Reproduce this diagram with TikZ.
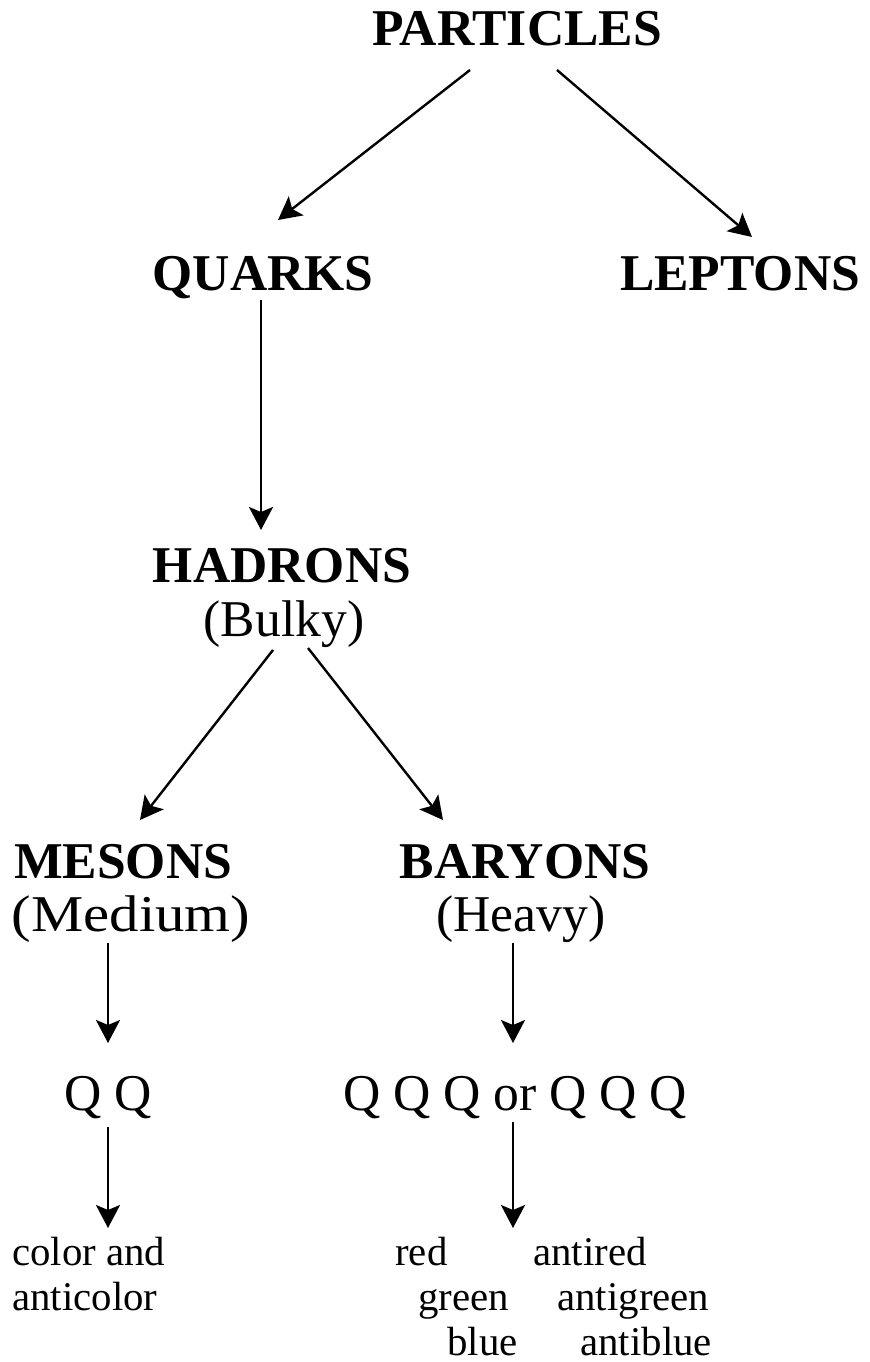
\documentclass[tikz,border=0pt]{standalone}
\usepackage{graphicx}
\usepackage{fontspec}
\setmainfont{Liberation Serif}
\usetikzlibrary{arrows.meta,calc}
\begin{document}
\begin{tikzpicture}[x=0.5pt,y=-0.5pt,
  big/.style={anchor=base,inner sep=0pt,font=\fontsize{25.8}{28}\selectfont},
  head/.style={big,font=\fontsize{25.8}{28}\selectfont\bfseries},
  small/.style={anchor=base west,inner sep=0pt,font=\fontsize{20.4}{23}\selectfont},
  arr/.style={line width=1.2pt,-{Stealth[length=11.5pt,width=12pt,inset=2.5pt]}}]
\useasboundingbox (0,0) rectangle (870,1362);

% level 1 and 2
\node[head] (particles) at (517,45) {PARTICLES};
\node[head] (quarks) at (263,290) {QUARKS};
\node[head] (leptons) at (740,290) {LEPTONS};

% hadrons
\node[head] (hadrons) at (282,582) {HADRONS};
\node[big] (bulky) at (284,636) {(Bulky)};

% mesons and baryons
\node[head] (mesons) at (123,878) {MESONS};
\node[big] (medium) at (131,931) {\scalebox{1.14}[1]{(Medium)}};
\node[head] (baryons) at (525,878) {BARYONS};
\node[big] (heavy) at (521,931) {(Heavy)};

% quark content
\node[big] (qq) at (108,1110) {Q Q};
\node[big] (qqq) at (515,1110) {Q Q Q or Q Q Q};

% colour charges
\node[small] (col1) at (12,1265) {color and};
\node[small] (col2) at (12,1310) {anticolor};
\node[small] (red) at (395,1265) {red};
\node[small] (antired) at (533,1265) {antired};
\node[small] (green) at (418,1310) {green};
\node[small] (antigreen) at (557,1310) {antigreen};
\node[small] (blue) at (447,1355) {blue};
\node[small] (antiblue) at (580,1355) {antiblue};

% connectors
\draw[arr] ($(particles.base)+(-47,25)$) -- ($(quarks.base)+(15,-70)$);
\draw[arr] ($(particles.base)+(40,25)$) -- ($(leptons.base)+(12,-53)$);
\draw[arr] ($(quarks.base)+(-2,10)$) -- ($(hadrons.base)+(-21,-52)$);
\draw[arr] ($(bulky.base)+(-11,14)$) -- ($(mesons.base)+(17,-58)$);
\draw[arr] ($(bulky.base)+(24,12)$) -- ($(baryons.base)+(-82,-58)$);
\draw[arr] ($(medium.base)+(-23,12)$) -- ($(qq.base)+(0,-67)$);
\draw[arr] ($(heavy.base)+(-8,12)$) -- ($(qqq.base)+(-2,-67)$);
\draw[arr] ($(qq.base)+(0,17)$) -- ($(col1.base west)+(96,-37)$);
\draw[arr] ($(qqq.base)+(-2,12)$) -- ($(red.base west)+(118,-37)$);
\end{tikzpicture}
\end{document}
